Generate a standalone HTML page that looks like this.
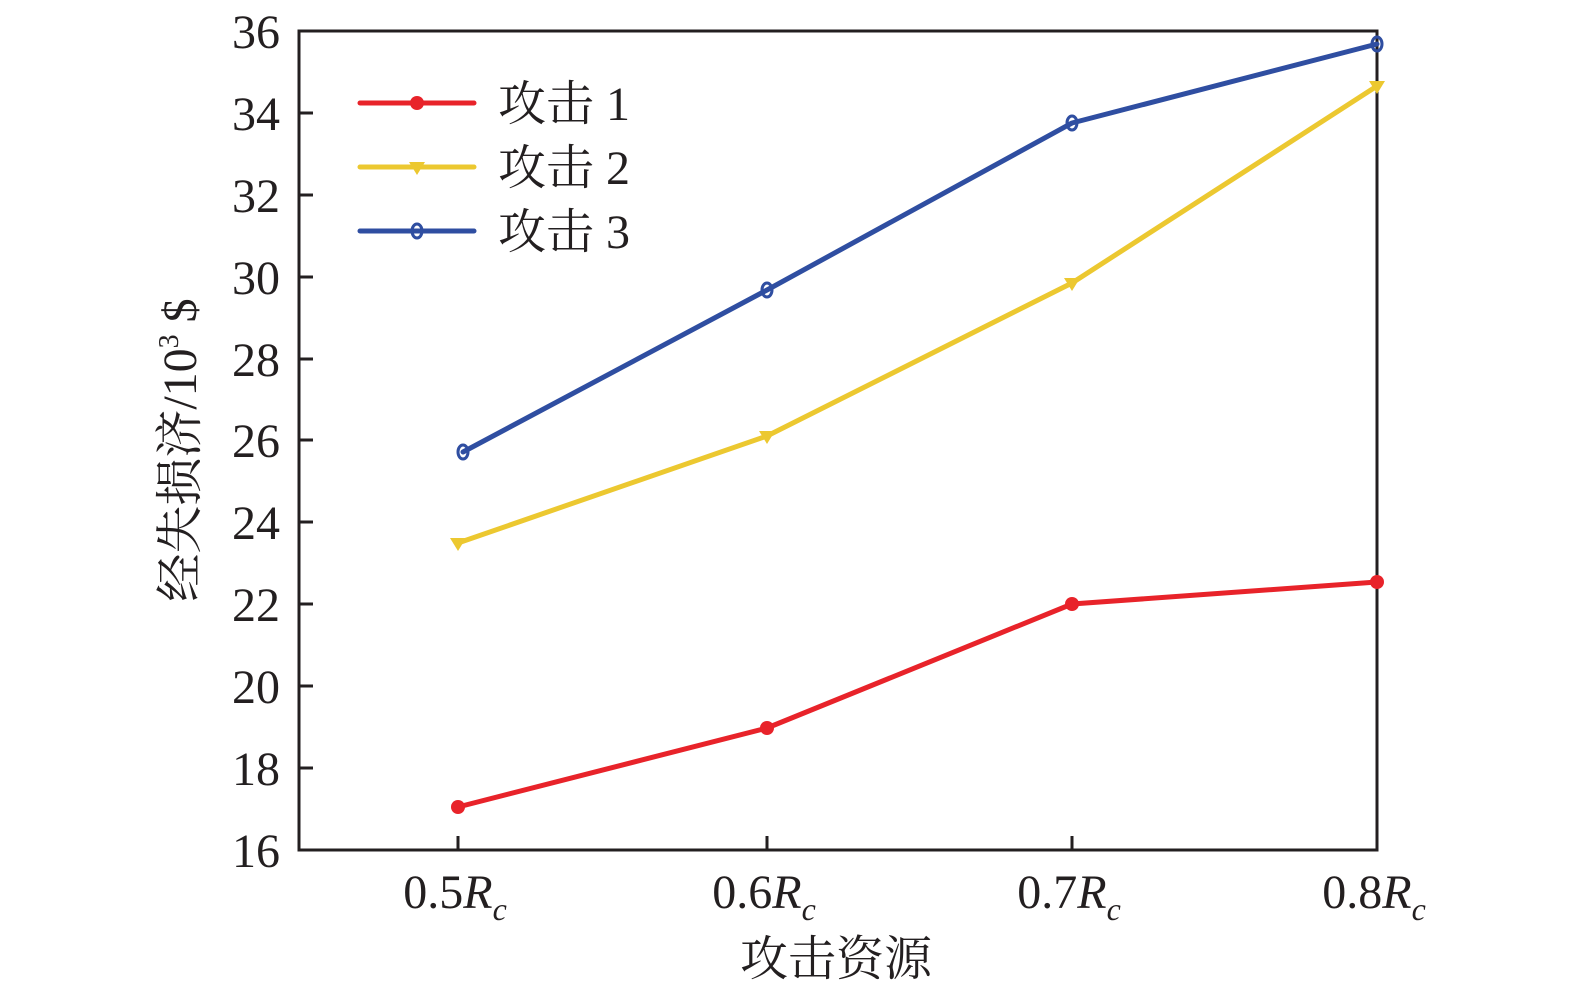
<!DOCTYPE html><html><head><style>body{margin:0;background:#fff}text{font-family:"Liberation Serif","Times New Roman",Times,serif}.c{font-family:"Noto Serif CJK SC",serif}</style></head><body>
<svg width="1575" height="990" xmlns="http://www.w3.org/2000/svg">
<rect x="299" y="31" width="1078" height="819" fill="none" stroke="#231f20" stroke-width="3"/>
<g stroke="#231f20" stroke-width="3">
<line x1="299" y1="113" x2="313" y2="113"/><line x1="299" y1="195" x2="313" y2="195"/><line x1="299" y1="277" x2="313" y2="277"/><line x1="299" y1="359" x2="313" y2="359"/><line x1="299" y1="440" x2="313" y2="440"/><line x1="299" y1="522" x2="313" y2="522"/><line x1="299" y1="604" x2="313" y2="604"/><line x1="299" y1="686" x2="313" y2="686"/><line x1="299" y1="768" x2="313" y2="768"/>
<line x1="458" y1="850" x2="458" y2="836"/><line x1="767" y1="850" x2="767" y2="836"/><line x1="1072" y1="850" x2="1072" y2="836"/>
</g>
<g font-size="48" fill="#231f20" text-anchor="end">
<text x="280" y="48">36</text><text x="280" y="130">34</text><text x="280" y="212">32</text><text x="280" y="294">30</text><text x="280" y="376">28</text><text x="280" y="457">26</text><text x="280" y="539">24</text><text x="280" y="621">22</text><text x="280" y="703">20</text><text x="280" y="785">18</text><text x="280" y="867">16</text>
</g>
<g font-size="48" fill="#231f20" text-anchor="middle">
<text x="455" y="908">0.5<tspan font-style="italic">R</tspan><tspan font-style="italic" font-size="32" dy="12">c</tspan></text>
<text x="764" y="908">0.6<tspan font-style="italic">R</tspan><tspan font-style="italic" font-size="32" dy="12">c</tspan></text>
<text x="1069" y="908">0.7<tspan font-style="italic">R</tspan><tspan font-style="italic" font-size="32" dy="12">c</tspan></text>
<text x="1374" y="908">0.8<tspan font-style="italic">R</tspan><tspan font-style="italic" font-size="32" dy="12">c</tspan></text>
<text x="836" y="975" class="c">攻击资源</text>
</g>
<text transform="translate(196,450) rotate(-90)" font-size="48" fill="#231f20" text-anchor="middle"><tspan class="c">经失损济</tspan>/10<tspan font-size="28" dy="-18">3</tspan><tspan dy="18"> $</tspan></text>
<g fill="none" stroke-width="5" stroke-linejoin="round" stroke-linecap="round">
<polyline stroke="#e8232a" points="458,807 767,728 1072,604 1377,582"/>
<polyline stroke="#ecc830" points="458,543 767,436 1072,283 1377,86"/>
<polyline stroke="#2f4ea1" points="463,452 767,290 1072,123 1377,44"/>
<line stroke="#e8232a" x1="360" y1="103" x2="474" y2="103"/>
<line stroke="#ecc830" x1="360" y1="167" x2="474" y2="167"/>
<line stroke="#2f4ea1" x1="360" y1="231" x2="474" y2="231"/>
</g>
<g fill="#e8232a"><circle cx="458" cy="807" r="7"/><circle cx="767" cy="728" r="7"/><circle cx="1072" cy="604" r="7"/><circle cx="1377" cy="582" r="7"/><circle cx="417" cy="103" r="7"/></g>
<g fill="#ecc830"><path d="M450,538h16l-8,13z"/><path d="M759,431h16l-8,13z"/><path d="M1064,278h16l-8,13z"/><path d="M1369,81h16l-8,13z"/><path d="M409,162h16l-8,13z"/></g>
<g fill="none" stroke="#2f4ea1" stroke-width="3"><ellipse cx="463" cy="452" rx="5" ry="7"/><ellipse cx="767" cy="290" rx="5" ry="7"/><ellipse cx="1072" cy="123" rx="5" ry="7"/><ellipse cx="1377" cy="44" rx="5" ry="7"/><ellipse cx="417" cy="231" rx="5" ry="7"/></g>
<g font-size="48" fill="#231f20"><text x="498" y="120"><tspan class="c">攻击</tspan> 1</text><text x="498" y="184"><tspan class="c">攻击</tspan> 2</text><text x="498" y="248"><tspan class="c">攻击</tspan> 3</text></g>
</svg></body></html>
